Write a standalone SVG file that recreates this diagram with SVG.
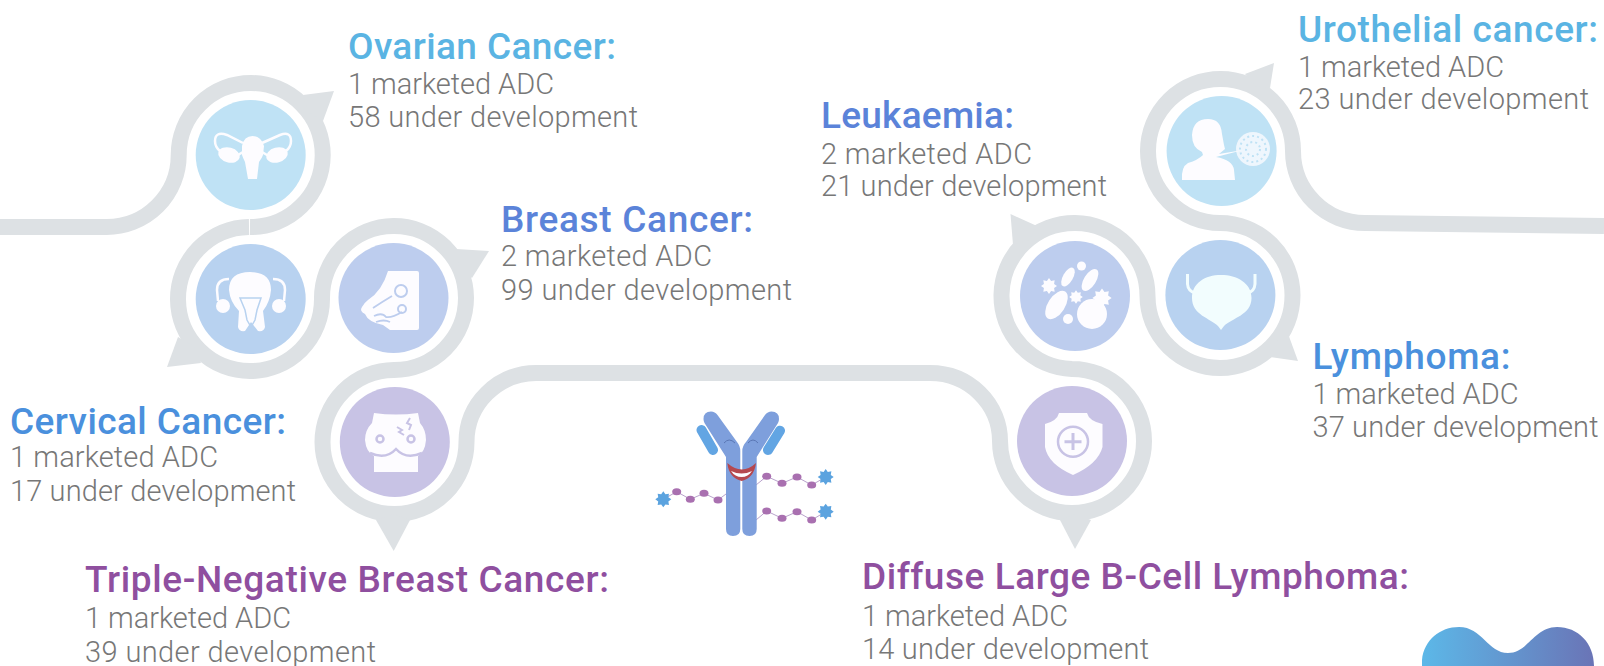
<svg xmlns="http://www.w3.org/2000/svg" width="1604" height="666" viewBox="0 0 1604 666">
<style>
.ring{fill:none;stroke:#dde1e4;stroke-width:16}
.tail{fill:#dde1e4}
.t{font-family:Roboto,"Liberation Sans",sans-serif;font-weight:500;font-size:37px}
.b{font-family:Roboto,"Liberation Sans",sans-serif;font-weight:300;font-size:29px;fill:#777}
.c1{fill:#bfe2f5}.c2{fill:#b8d2f0}.c3{fill:#bdcdee}.c4{fill:#c8c3e5}
.w{fill:#fdfcff}
.tc1{fill:#5ab4e3}.tc2{fill:#4a90dd}.tc3{fill:#5b83d9}.tc4{fill:#8f4f9f}
.dot{fill:#a970b0}
.link{fill:none;stroke:#b9a3cc;stroke-width:1}
</style>
<defs>
<polygon id="star" points="8,0 5.08,2.1 5.66,5.66 2.1,5.08 0,8 -2.1,5.08 -5.66,5.66 -5.08,2.1 -8,0 -5.08,-2.1 -5.66,-5.66 -2.1,-5.08 0,-8 2.1,-5.08 5.66,-5.66 5.08,-2.1"/>
<linearGradient id="logo" x1="0" x2="1" y1="0" y2="0"><stop offset="0" stop-color="#5cb8e8"/><stop offset="1" stop-color="#6a74b6"/></linearGradient>
</defs>
<g id="connectors">
<path class="ring" d="M0 227H106A72 72 0 0 0 178.700 155A72 72 0 1 1 250 227"/>
<path class="ring" d="M249 227A72 72 0 1 0 322 299A72 72 0 1 1 394 370A72 72 0 1 0 466.500 442A70 69 0 0 1 536 373H930A70 68 0 0 1 1000 441A72 72 0 1 0 1072 369A73 73 0 1 1 1147.500 296A72.500 72.500 0 1 0 1220 223A72.500 72 0 1 1 1293 151A72 72 0 0 0 1365 223L1604 226"/>
</g>
<g id="ovarian">
<polygon class="tail" points="303,95 334,91 323,121 308,112"/>
<circle class="c1" cx="250.700" cy="155" r="55"/>
<path class="w" d="M242 146Q244 136 252.500 136Q261 136 264 146L263 155Q262 158 259 162L257 179H248L245 162Q243 158 242 155Z"/>
<path d="M243 143L227 135Q215 131 215 141Q215 147 220 151M262 143L280 135Q291 131 291 141Q291 147 286 151M243 152L233 158M262 152L272 158" fill="none" stroke="#fdfcff" stroke-width="2.500"/>
<ellipse class="w" cx="229" cy="155" rx="11" ry="7.500" transform="rotate(15 229 155)"/>
<ellipse class="w" cx="277" cy="155" rx="11" ry="7.500" transform="rotate(-15 277 155)"/>
<text class="t tc1" x="348" y="59" textLength="268" lengthAdjust="spacing">Ovarian Cancer:</text>
<text class="b" x="348" y="94" textLength="206" lengthAdjust="spacing">1 marketed ADC</text>
<text class="b" x="348" y="127" textLength="290" lengthAdjust="spacing">58 under development</text>
</g>
<g id="cervical">
<polygon class="tail" points="178,337 167,367 201,363 194,346"/>
<circle class="c2" cx="250.700" cy="299" r="55"/>
<path class="w" d="M229 290Q229 272 250 272Q271 272 271 290Q270 302 263 311L265 327Q264 332 258 331L251 322L245 331Q239 332 238 327L239 311Q230 302 229 290Z"/>
<path d="M240 298H261L257 310L255 320L251 327L247 320L245 310Z" fill="none" stroke="#b8d2f0" stroke-width="1.500"/>
<path d="M229 279Q217 279 217 290L218 301M273 279Q285 279 285 290L284 301" fill="none" stroke="#fdfcff" stroke-width="2.500"/>
<circle class="w" cx="223" cy="306" r="7"/>
<circle class="w" cx="279" cy="306" r="7"/>
<text class="t tc2" x="10" y="434" textLength="276" lengthAdjust="spacing">Cervical Cancer:</text>
<text class="b" x="10" y="467" textLength="208" lengthAdjust="spacing">1 marketed ADC</text>
<text class="b" x="10" y="501" textLength="286" lengthAdjust="spacing">17 under development</text>
</g>
<g id="breast">
<polygon class="tail" points="456,249 489,251 472,278 459,266"/>
<circle class="c3" cx="393.500" cy="298" r="55"/>
<path class="w" d="M390 271H417Q419 271 419 273V328Q419 330 417 330H390L383 325Q368 322 365 314Q359 311 362 307Q364 303 368 300Q382 291 388 271Z"/>
<path d="M373 308Q382 302 392 296M374 316Q382 312 386 317Q392 318 402 312M376 322Q384 319 390 322" fill="none" stroke="#bdcdee" stroke-width="1.800"/>
<circle cx="401" cy="291" r="6" fill="none" stroke="#bdcdee" stroke-width="2"/>
<circle cx="402" cy="309" r="4" fill="none" stroke="#bdcdee" stroke-width="2"/>
<text class="t tc3" x="501" y="232" textLength="252" lengthAdjust="spacing">Breast Cancer:</text>
<text class="b" x="501" y="266" textLength="211" lengthAdjust="spacing">2 marketed ADC</text>
<text class="b" x="501" y="300" textLength="291" lengthAdjust="spacing">99 under development</text>
</g>
<g id="tnbc">
<polygon class="tail" points="376,520 393.700,551 410,520 393.700,514"/>
<circle class="c4" cx="394.800" cy="442" r="55"/>
<path class="w" d="M374 413Q396 416 418 413L420 423Q426 430 426 440Q425 452 418 456V472H374V456Q366 452 365 440Q365 430 372 423Z"/>
<path d="M370 453Q386 460 396 449Q406 460 422 453" fill="none" stroke="#c8c3e5" stroke-width="2.500"/>
<circle cx="380" cy="439" r="3.500" fill="none" stroke="#c8c3e5" stroke-width="2.500"/>
<circle cx="411" cy="439" r="3.500" fill="none" stroke="#c8c3e5" stroke-width="2.500"/>
<path d="M410 418L407 423L411 425L409 430M397 427L402 430L399 432L404 435" fill="none" stroke="#c8c3e5" stroke-width="2"/>
<text class="t tc4" x="85" y="592" textLength="524" lengthAdjust="spacing">Triple-Negative Breast Cancer:</text>
<text class="b" x="85" y="628" textLength="206" lengthAdjust="spacing">1 marketed ADC</text>
<text class="b" x="85" y="662" textLength="291" lengthAdjust="spacing">39 under development</text>
</g>
<g id="dlbcl">
<polygon class="tail" points="1060,520 1075,549 1091,520 1075,514"/>
<circle class="c4" cx="1072" cy="441" r="55"/>
<path class="w" d="M1059 413H1087Q1089 421 1102.500 424V447Q1098 464 1073 475Q1048 464 1045 447V424Q1057 421 1059 413Z"/>
<circle cx="1073" cy="441.700" r="15" fill="none" stroke="#c8c3e5" stroke-width="2.500"/>
<path d="M1073 433V450M1064.500 441.700H1081.500" fill="none" stroke="#c8c3e5" stroke-width="3"/>
<text class="t tc4" x="862" y="589" textLength="547" lengthAdjust="spacing">Diffuse Large B-Cell Lymphoma:</text>
<text class="b" x="862" y="626" textLength="206" lengthAdjust="spacing">1 marketed ADC</text>
<text class="b" x="862" y="659" textLength="287" lengthAdjust="spacing">14 under development</text>
</g>
<g id="leukaemia">
<polygon class="tail" points="1037,226 1010.500,214 1013,245 1029,240"/>
<circle class="c3" cx="1075" cy="296" r="55"/>
<g class="w">
<use href="#star" transform="translate(1049 286) scale(1)"/>
<ellipse cx="1068" cy="277" rx="5" ry="10.500" transform="rotate(30 1068 277)"/>
<ellipse cx="1090" cy="280" rx="6" ry="12.500" transform="rotate(32 1090 280)"/>
<circle cx="1081.500" cy="266" r="4.500"/>
<ellipse cx="1056.500" cy="305" rx="8.500" ry="16" transform="rotate(33 1056.500 305)"/>
<use href="#star" transform="translate(1076 297) scale(.85)"/>
<circle cx="1068" cy="319" r="5"/>
<circle cx="1092" cy="314" r="15"/>
<use href="#star" transform="translate(1102 298) scale(1.200)"/>
</g>
<text class="t tc3" x="821" y="128" textLength="193" lengthAdjust="spacing">Leukaemia:</text>
<text class="b" x="821" y="164" textLength="211" lengthAdjust="spacing">2 marketed ADC</text>
<text class="b" x="821" y="196" textLength="286" lengthAdjust="spacing">21 under development</text>
</g>
<g id="lymphoma">
<polygon class="tail" points="1288.500,335 1298,361 1270,357 1275,342"/>
<circle class="c2" cx="1220.400" cy="295" r="55"/>
<path d="M1221 275C1205 275 1192 283 1192 298C1192 315 1210 318 1218 326L1221 330L1224 326C1232 318 1251.500 315 1251.500 298C1251.500 283 1237 275 1221 275Z" fill="#f2fdfe"/>
<path d="M1187.500 274V284Q1188 291 1195 293M1255 274V284Q1254.500 291 1248 293" fill="none" stroke="#f2fdfe" stroke-width="3"/>
<text class="t tc2" x="1312.500" y="369" textLength="198" lengthAdjust="spacing">Lymphoma:</text>
<text class="b" x="1312.500" y="404" textLength="206" lengthAdjust="spacing">1 marketed ADC</text>
<text class="b" x="1312.500" y="437" textLength="286" lengthAdjust="spacing">37 under development</text>
</g>
<g id="urothelial">
<polygon class="tail" points="1245,74 1274,63 1270,88 1255,86"/>
<circle class="c1" cx="1221.600" cy="151" r="55"/>
<path class="w" d="M1182 180Q1181 167 1188 163Q1198 160 1203 155L1202 152Q1192 148 1192 135Q1193 119 1208 119Q1221 119 1222 134L1224 145L1225 149L1219 154L1243 150L1216 157Q1233 160 1234 170L1235 180Z"/>
<circle cx="1253" cy="149" r="17" fill="#fdfcff" fill-opacity=".75"/>
<circle cx="1253" cy="149" r="13" fill="none" stroke="#bfe2f5" stroke-width="2" stroke-dasharray="2 3"/>
<circle cx="1253" cy="149" r="7" fill="none" stroke="#bfe2f5" stroke-width="2" stroke-dasharray="2 3"/>
<text class="t tc1" x="1298" y="42" textLength="300" lengthAdjust="spacing">Urothelial cancer:</text>
<text class="b" x="1298" y="77" textLength="206" lengthAdjust="spacing">1 marketed ADC</text>
<text class="b" x="1298" y="109" textLength="291" lengthAdjust="spacing">23 under development</text>
</g>
<g id="antibody">
<path class="link" d="M756 485L766.700 476.300L782 483.300L797 477L811.700 485L825.700 477M756 520L766.700 511L782 518.300L797 511.700L811.700 520L825.700 511.700M726 494L718 500L704 493.300L690.300 499.300L676.700 491.700L663.300 499.300"/>
<g class="dot">
<ellipse cx="766.700" cy="476.300" rx="4.500" ry="3.500"/><ellipse cx="782" cy="483.300" rx="4.500" ry="3.500"/><ellipse cx="797" cy="477" rx="4.500" ry="3.500"/><ellipse cx="811.700" cy="485" rx="4.500" ry="3.500"/>
<ellipse cx="766.700" cy="511" rx="4.500" ry="3.500"/><ellipse cx="782" cy="518.300" rx="4.500" ry="3.500"/><ellipse cx="797" cy="511.700" rx="4.500" ry="3.500"/><ellipse cx="811.700" cy="520" rx="4.500" ry="3.500"/>
<ellipse cx="718" cy="500" rx="4.500" ry="3.500"/><ellipse cx="704" cy="493.300" rx="4.500" ry="3.500"/><ellipse cx="690.300" cy="499.300" rx="4.500" ry="3.500"/><ellipse cx="676.700" cy="491.700" rx="4.500" ry="3.500"/>
</g>
<g fill="#5ba3df">
<use href="#star" transform="translate(825.700 477)"/><use href="#star" transform="translate(825.700 511.700)"/><use href="#star" transform="translate(663.300 499.300)"/>
</g>
<path d="M701.500 430L713 450M780 430.700L768 450" fill="none" stroke="#62a5e3" stroke-width="10" stroke-linecap="round"/>
<path d="M703.500 419Q703.500 411.500 711 411.500Q715 411.500 717.500 415L737 442Q740.300 446 740.300 451V529Q740.300 536 733 536Q726 536 726 529V457L704.500 423Q703.500 421 703.500 419Z" fill="#7e9fdc"/>
<path d="M779 419Q779 411.500 771.500 411.500Q767.500 411.500 765 415L746 442Q742.300 446 742.300 451V529Q742.300 536 749.500 536Q756.700 536 756.700 529V457L778 423Q779 421 779 419Z" fill="#7e9fdc"/>
<path d="M727.300 463Q729 478 741.700 481Q754 478 756 463Q742 476 727.300 463Z" fill="#b5484f"/>
<path d="M731 471Q741.700 476 752 471Q748 477 741.700 477Q735 477 731 471Z" fill="#fdfcff"/>
<path d="M724 443Q729 437 735 443M748 443Q753 437 758 443" fill="none" stroke="#5a77b5" stroke-width="1"/>
</g>
<g id="logo-mark">
<path fill="url(#logo)" d="M1422 666V660C1424 640 1440 627 1459 627C1482 627 1488 653 1508 653C1528 653 1534 627 1557 627C1578 627 1594 643 1594 666Z"/>
</g>
</svg>
